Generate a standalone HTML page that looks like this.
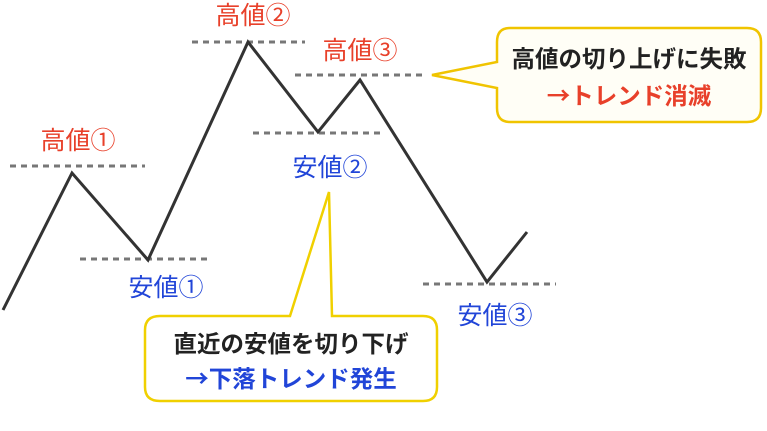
<!DOCTYPE html>
<html><head><meta charset="utf-8"><style>
body{margin:0;background:#fff;}
svg text{font-family:"Liberation Sans","Noto Sans CJK JP",sans-serif;}
.cjk{font-family:"Noto Sans CJK JP",sans-serif;}
</style></head><body>
<svg width="767" height="426" viewBox="0 0 767 426" xmlns="http://www.w3.org/2000/svg">
<g stroke="#777" stroke-width="3" stroke-dasharray="6,5" fill="none">
<line x1="10" y1="166" x2="145" y2="166"/>
<line x1="80" y1="259" x2="212" y2="259"/>
<line x1="192" y1="42" x2="305" y2="42"/>
<line x1="253" y1="133" x2="385" y2="133"/>
<line x1="295" y1="75" x2="427" y2="75"/>
<line x1="423" y1="284" x2="556" y2="284"/>
</g>
<polyline points="3,310 72,173 148,260 248,42 318,132 360,80 487,282 527,232" fill="none" stroke="#333" stroke-width="3" stroke-linejoin="miter"/>
<g font-size="25" fill="#e8402a">
<text x="78" y="149" text-anchor="middle">高値①</text>
<text x="253" y="24" text-anchor="middle">高値②</text>
<text x="360" y="59" text-anchor="middle">高値③</text>
</g>
<g font-size="25" fill="#2145d8">
<text x="330" y="176" text-anchor="middle">安値②</text>
<text x="166" y="296" text-anchor="middle">安値①</text>
<text x="495" y="324" text-anchor="middle">安値③</text>
</g>
<path d="M510,28 H747 Q761,28 761,42 V108 Q761,122 747,122 H510 Q497,122 497,108 V88 L432,75 L497,62 V42 Q497,28 510,28 Z" fill="#fffef6" stroke="#f0c400" stroke-width="2.5"/>
<text x="629" y="67" text-anchor="middle" font-size="23.5" font-weight="bold" fill="#222">高値の切り上げに失敗</text>
<text x="629" y="104" text-anchor="middle" font-size="23.5" font-weight="bold" fill="#e8402a"><tspan class="cjk">→</tspan>トレンド消滅</text>
<path d="M160,316 H290 L329,192 L332,316 H423 Q437,316 437,330 V387 Q437,401 423,401 H160 Q145,401 145,387 V330 Q145,316 160,316 Z" fill="#fff" stroke="#f0d000" stroke-width="2.5"/>
<text x="291" y="352" text-anchor="middle" font-size="23.5" font-weight="bold" fill="#222">直近の安値を切り下げ</text>
<text x="291" y="387" text-anchor="middle" font-size="23.5" font-weight="bold" fill="#2145d8"><tspan class="cjk">→</tspan>下落トレンド発生</text>
</svg>
</body></html>
